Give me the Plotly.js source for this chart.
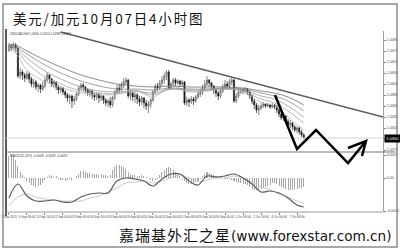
<!DOCTYPE html>
<html>
<head>
<meta charset="utf-8">
<script src="https://cdn.plot.ly/plotly-3.0.1.min.js"></script>
<style>
  html, body { margin: 0; padding: 0; background: #ffffff; }
  #chart { width: 400px; height: 250px; }
</style>
</head>
<body>
<div id="chart"></div>
<script>
// USD/CAD H4 bars, 5 Sep - 7 Oct
const open = [
  1.0476, 1.0484, 1.0480, 1.0486, 1.0480, 1.0424, 1.0432, 1.0426, 1.0420, 1.0428,
  1.0418, 1.0408, 1.0412, 1.0402, 1.0406, 1.0398, 1.0404, 1.0416, 1.0426, 1.0418,
  1.0408, 1.0412, 1.0402, 1.0396, 1.0400, 1.0392, 1.0386, 1.0380, 1.0384, 1.0374,
  1.0378, 1.0388, 1.0400, 1.0406, 1.0402, 1.0396, 1.0390, 1.0394, 1.0386, 1.0382,
  1.0388, 1.0380, 1.0384, 1.0376, 1.0370, 1.0374, 1.0366, 1.0380, 1.0392, 1.0400,
  1.0396, 1.0406, 1.0412, 1.0416, 1.0384, 1.0390, 1.0382, 1.0386, 1.0378, 1.0372,
  1.0380, 1.0370, 1.0364, 1.0368, 1.0376, 1.0392, 1.0404, 1.0400, 1.0410, 1.0416,
  1.0424, 1.0432, 1.0400, 1.0408, 1.0416, 1.0410, 1.0414, 1.0408, 1.0412, 1.0370,
  1.0376, 1.0372, 1.0378, 1.0374, 1.0382, 1.0388, 1.0392, 1.0400, 1.0408, 1.0416,
  1.0410, 1.0404, 1.0396, 1.0390, 1.0384, 1.0394, 1.0402, 1.0408, 1.0404, 1.0412,
  1.0416, 1.0374, 1.0384, 1.0392, 1.0396, 1.0394, 1.0398, 1.0392, 1.0384, 1.0374,
  1.0366, 1.0356, 1.0360, 1.0364, 1.0368, 1.0364, 1.0366, 1.0362, 1.0366, 1.0362,
  1.0356, 1.0348, 1.0340, 1.0344, 1.0334, 1.0326, 1.0330, 1.0322, 1.0316, 1.0320,
  1.0312, 1.0306
];
const high = [
  1.0490, 1.0488, 1.0492, 1.0490, 1.0482, 1.0440, 1.0436, 1.0430, 1.0434, 1.0432,
  1.0422, 1.0418, 1.0416, 1.0410, 1.0408, 1.0412, 1.0422, 1.0432, 1.0428, 1.0420,
  1.0416, 1.0414, 1.0406, 1.0404, 1.0402, 1.0396, 1.0390, 1.0388, 1.0386, 1.0384,
  1.0392, 1.0404, 1.0410, 1.0410, 1.0404, 1.0400, 1.0398, 1.0396, 1.0390, 1.0392,
  1.0390, 1.0388, 1.0386, 1.0380, 1.0378, 1.0382, 1.0384, 1.0396, 1.0406, 1.0408,
  1.0412, 1.0420, 1.0422, 1.0418, 1.0396, 1.0394, 1.0392, 1.0390, 1.0384, 1.0384,
  1.0382, 1.0376, 1.0374, 1.0380, 1.0396, 1.0408, 1.0410, 1.0416, 1.0424, 1.0430,
  1.0436, 1.0436, 1.0412, 1.0420, 1.0420, 1.0418, 1.0416, 1.0416, 1.0414, 1.0382,
  1.0380, 1.0384, 1.0382, 1.0386, 1.0394, 1.0398, 1.0406, 1.0416, 1.0424, 1.0418,
  1.0412, 1.0406, 1.0400, 1.0394, 1.0398, 1.0408, 1.0416, 1.0414, 1.0418, 1.0422,
  1.0418, 1.0390, 1.0398, 1.0400, 1.0400, 1.0402, 1.0400, 1.0394, 1.0388, 1.0378,
  1.0370, 1.0366, 1.0370, 1.0372, 1.0370, 1.0370, 1.0368, 1.0370, 1.0368, 1.0366,
  1.0360, 1.0352, 1.0348, 1.0346, 1.0338, 1.0336, 1.0332, 1.0326, 1.0324, 1.0322,
  1.0316, 1.0310
];
const low = [
  1.0472, 1.0474, 1.0476, 1.0472, 1.0420, 1.0418, 1.0416, 1.0412, 1.0416, 1.0410,
  1.0402, 1.0400, 1.0396, 1.0392, 1.0390, 1.0394, 1.0400, 1.0412, 1.0410, 1.0402,
  1.0400, 1.0396, 1.0388, 1.0390, 1.0386, 1.0380, 1.0372, 1.0368, 1.0360, 1.0366,
  1.0374, 1.0384, 1.0396, 1.0394, 1.0390, 1.0384, 1.0382, 1.0378, 1.0374, 1.0376,
  1.0370, 1.0374, 1.0368, 1.0364, 1.0362, 1.0360, 1.0362, 1.0376, 1.0388, 1.0390,
  1.0392, 1.0400, 1.0406, 1.0380, 1.0376, 1.0374, 1.0370, 1.0368, 1.0364, 1.0366,
  1.0360, 1.0356, 1.0350, 1.0360, 1.0372, 1.0388, 1.0394, 1.0396, 1.0404, 1.0408,
  1.0416, 1.0396, 1.0396, 1.0404, 1.0404, 1.0406, 1.0402, 1.0404, 1.0366, 1.0364,
  1.0362, 1.0368, 1.0366, 1.0370, 1.0378, 1.0382, 1.0386, 1.0396, 1.0404, 1.0402,
  1.0396, 1.0388, 1.0382, 1.0376, 1.0380, 1.0390, 1.0398, 1.0396, 1.0400, 1.0406,
  1.0370, 1.0370, 1.0380, 1.0388, 1.0388, 1.0390, 1.0386, 1.0378, 1.0368, 1.0358,
  1.0350, 1.0346, 1.0356, 1.0360, 1.0360, 1.0362, 1.0358, 1.0360, 1.0358, 1.0350,
  1.0342, 1.0336, 1.0334, 1.0328, 1.0322, 1.0320, 1.0316, 1.0312, 1.0310, 1.0306,
  1.0302, 1.0298
];
const close = [
  1.0484, 1.0480, 1.0486, 1.0480, 1.0424, 1.0432, 1.0426, 1.0420, 1.0428, 1.0418,
  1.0408, 1.0412, 1.0402, 1.0406, 1.0398, 1.0404, 1.0416, 1.0426, 1.0418, 1.0408,
  1.0412, 1.0402, 1.0396, 1.0400, 1.0392, 1.0386, 1.0380, 1.0384, 1.0374, 1.0378,
  1.0388, 1.0400, 1.0406, 1.0402, 1.0396, 1.0390, 1.0394, 1.0386, 1.0382, 1.0388,
  1.0380, 1.0384, 1.0376, 1.0370, 1.0374, 1.0366, 1.0380, 1.0392, 1.0400, 1.0396,
  1.0406, 1.0412, 1.0416, 1.0384, 1.0390, 1.0382, 1.0386, 1.0378, 1.0372, 1.0380,
  1.0370, 1.0364, 1.0368, 1.0376, 1.0392, 1.0404, 1.0400, 1.0410, 1.0416, 1.0424,
  1.0432, 1.0400, 1.0408, 1.0416, 1.0410, 1.0414, 1.0408, 1.0412, 1.0370, 1.0376,
  1.0372, 1.0378, 1.0374, 1.0382, 1.0388, 1.0392, 1.0400, 1.0408, 1.0416, 1.0410,
  1.0404, 1.0396, 1.0390, 1.0384, 1.0394, 1.0402, 1.0408, 1.0404, 1.0412, 1.0416,
  1.0374, 1.0384, 1.0392, 1.0396, 1.0394, 1.0398, 1.0392, 1.0384, 1.0374, 1.0366,
  1.0356, 1.0360, 1.0364, 1.0368, 1.0364, 1.0366, 1.0362, 1.0366, 1.0362, 1.0356,
  1.0348, 1.0340, 1.0344, 1.0334, 1.0326, 1.0330, 1.0322, 1.0316, 1.0320, 1.0312,
  1.0306, 1.0300
];

// Moving-average ribbon, sampled at these bar numbers
const maBars  = [0, 4, 8, 16, 24, 32, 40, 48, 56, 64, 72, 80, 88, 96, 104, 112, 118, 124, 131];
const maFast  = [1.0480, 1.0464, 1.0436, 1.0412, 1.0400, 1.0390, 1.0386, 1.0388, 1.0396, 1.0382, 1.0404, 1.0392, 1.0396, 1.0400, 1.0392, 1.0372, 1.0364, 1.0342, 1.0316];
const ma2     = [1.0482, 1.0472, 1.0450, 1.0422, 1.0406, 1.0394, 1.0390, 1.0388, 1.0394, 1.0386, 1.0398, 1.0394, 1.0394, 1.0398, 1.0394, 1.0378, 1.0370, 1.0354, 1.0330];
const ma3     = [1.0484, 1.0476, 1.0460, 1.0434, 1.0416, 1.0402, 1.0394, 1.0392, 1.0394, 1.0390, 1.0398, 1.0396, 1.0396, 1.0398, 1.0396, 1.0384, 1.0378, 1.0364, 1.0342];
const ma4     = [1.0486, 1.0480, 1.0468, 1.0446, 1.0428, 1.0414, 1.0404, 1.0398, 1.0398, 1.0396, 1.0400, 1.0398, 1.0398, 1.0400, 1.0398, 1.0390, 1.0384, 1.0374, 1.0354];
const maSlow  = [1.0488, 1.0484, 1.0474, 1.0456, 1.0440, 1.0426, 1.0416, 1.0408, 1.0404, 1.0402, 1.0404, 1.0402, 1.0402, 1.0402, 1.0400, 1.0394, 1.0390, 1.0382, 1.0366];

// MACD(12,26,9) histogram, one value per bar
const macdHist = [
  0.0022, 0.0023, 0.0021, 0.0018, 0.0012,
  0.0006, 0.0003, 0.0001,
  -0.0003, -0.0005, -0.0007, -0.0008, -0.0009, -0.0008, -0.0007, -0.0005,
  -0.0002, 0.0001, 0.0003,
  0.0002, 0.0001, 0.0002,
  -0.0001, -0.0002, -0.0002, -0.0003, -0.0002, -0.0001, -0.0002,
  0.0000, 0.0002, 0.0004,
  0.0007, 0.0007, 0.0006, 0.0005, 0.0005, 0.0004, 0.0004, 0.0004, 0.0003, 0.0004, 0.0003, 0.0003, 0.0002,
  0.0003, 0.0008, 0.0011, 0.0013, 0.0013, 0.0012, 0.0011, 0.0009, 0.0006,
  0.0004, 0.0003, 0.0003, 0.0002, 0.0002, 0.0003, 0.0002, 0.0001, 0.0000,
  -0.0002, -0.0003, -0.0002, -0.0001,
  0.0003, 0.0006, 0.0008, 0.0010, 0.0011, 0.0010, 0.0008, 0.0006, 0.0004,
  0.0002, -0.0001, -0.0003, -0.0005, -0.0006, -0.0006, -0.0005, -0.0004, -0.0003, -0.0001,
  0.0002, 0.0004, 0.0006, 0.0005, 0.0004, 0.0003, 0.0002,
  0.0001, 0.0001, 0.0000, -0.0001, -0.0001,
  -0.0001, -0.0002, -0.0003, -0.0004, -0.0005, -0.0005, -0.0006, -0.0006, -0.0007,
  -0.0009, -0.0011, -0.0012, -0.0012, -0.0012, -0.0011, -0.0010, -0.0009, -0.0008, -0.0007,
  -0.0005, -0.0005, -0.0006, -0.0008, -0.0009,
  -0.0010, -0.0011, -0.0012, -0.0012, -0.0012, -0.0011, -0.0011, -0.0010, -0.0010, -0.0009
];
// MACD main and signal lines, sampled at these bar numbers
const macdBars   = [0, 4, 8, 12, 16, 20, 24, 28, 32, 36, 40, 44, 48, 52, 56, 60, 64, 68, 72, 76, 80, 84, 88, 92, 96, 100, 104, 108, 112, 116, 120, 124, 128, 131];
const macdMain   = [-0.0020, -0.0006, -0.0018, -0.0023, -0.0023, -0.0022, -0.0024, -0.0024, -0.0019, -0.0016, -0.0015, -0.0015, -0.0003, 0.0000, -0.0001, -0.0003, -0.0008, -0.0001, 0.0004, 0.0004, -0.0003, -0.0007, 0.0002, 0.0001, 0.0002, 0.0004, 0.0000, -0.0006, -0.0014, -0.0013, -0.0015, -0.0020, -0.0027, -0.0029];
const macdSignal = [-0.0028, -0.0019, -0.0016, -0.0019, -0.0021, -0.0022, -0.0023, -0.0023, -0.0023, -0.0020, -0.0018, -0.0014, -0.0010, -0.0005, -0.0004, -0.0003, -0.0005, -0.0003, 0.0000, 0.0003, 0.0000, -0.0004, -0.0002, 0.0000, 0.0000, 0.0002, 0.0000, -0.0004, -0.0009, -0.0012, -0.0016, -0.0019, -0.0023, -0.0025];

// Axis labels
const xTickLabels = ['5 Sep 2013', '9 Sep 08:00', '10 Sep 16:00', '12 Sep 00:00', '13 Sep 08:00', '16 Sep 16:00',
  '18 Sep 00:00', '19 Sep 08:00', '20 Sep 16:00', '24 Sep 00:00', '25 Sep 08:00', '26 Sep 16:00',
  '30 Sep 00:00', '1 Oct 08:00', '2 Oct 16:00', '4 Oct 00:00', '7 Oct 08:00'];
const priceTicks = [1.0496, 1.0474, 1.0452, 1.0430, 1.0408, 1.0386, 1.0364, 1.0342, 1.0320, 1.0298, 1.0276];
const macdTicks = [0.0023, 0, -0.0033];
const macdTickLabels = ['0.0023', '0.00', '-0.0033'];

// Hand-drawn trend line (bar, price)
const trendLine = { bar0: 23, price0: 1.0512, bar1: 166.2, price1: 1.0342 };

// ---------------------------------------------------------------
const bars = close.map((_, i) => i);
const last = close.length - 1;
const W = 400, H = 250;
const px = x => x / W;
const py = y => 1 - y / H;
const pathOf = pts => pts.map((p, i) => (i ? 'L' : 'M') + px(p[0]).toFixed(4) + ',' + py(p[1]).toFixed(4)).join(' ');

const ribbon = [
  { y: maFast, color: '#b8b8b8' },
  { y: ma2, color: '#a8a8a8' },
  { y: ma3, color: '#9a9a9a' },
  { y: ma4, color: '#8a8a8a' },
  { y: maSlow, color: '#6e6e6e' }
];

const traces = [];
ribbon.forEach(r => traces.push({
  type: 'scatter', mode: 'lines', x: maBars, y: r.y, xaxis: 'x', yaxis: 'y',
  line: { color: r.color, width: 0.8, shape: 'spline' }, hoverinfo: 'skip'
}));
traces.push({
  type: 'candlestick', x: bars, open: open, high: high, low: low, close: close,
  xaxis: 'x', yaxis: 'y', whiskerwidth: 0,
  increasing: { line: { color: '#555555', width: 0.7 }, fillcolor: '#ffffff' },
  decreasing: { line: { color: '#222222', width: 0.7 }, fillcolor: '#000000' },
  hoverinfo: 'skip'
});
traces.push({
  type: 'bar', x: bars, y: macdHist, xaxis: 'x', yaxis: 'y2', width: 0.45,
  marker: { color: '#a8a8a8', line: { width: 0 } }, hoverinfo: 'skip'
});
traces.push({
  type: 'scatter', mode: 'lines', x: macdBars, y: macdSignal, xaxis: 'x', yaxis: 'y2',
  line: { color: '#c8c8c8', width: 1, shape: 'spline' }, hoverinfo: 'skip'
});
traces.push({
  type: 'scatter', mode: 'lines', x: macdBars, y: macdMain, xaxis: 'x', yaxis: 'y2',
  line: { color: '#5a5a5a', width: 1.2, shape: 'spline' }, hoverinfo: 'skip'
});

const tickFont = { family: 'Liberation Sans, Arial, sans-serif', size: 3.6, color: '#444' };

const shapes = [
  // outer frame
  { type: 'rect', xref: 'paper', yref: 'paper', x0: px(3), x1: px(397), y0: py(247), y1: py(4),
    line: { color: '#8c8c8c', width: 1.5 } },
  // chart window edges
  { type: 'line', xref: 'paper', yref: 'paper', x0: px(6), x1: px(6), y0: py(29), y1: py(216),
    line: { color: '#5a5a5a', width: 2 } },
  { type: 'line', xref: 'paper', yref: 'paper', x0: px(6), x1: px(383), y0: py(212), y1: py(212),
    line: { color: '#9a9a9a', width: 1 } },
  { type: 'line', xref: 'paper', yref: 'paper', x0: px(6), x1: px(395), y0: py(152), y1: py(152),
    line: { color: '#7a7a7a', width: 1.2 } },
  // last price line
  { type: 'line', xref: 'paper', yref: 'y', x0: px(6), x1: px(383), y0: close[last], y1: close[last],
    line: { color: '#d4d4d4', width: 1 } },
  // trend line
  { type: 'line', xref: 'x', yref: 'y', x0: trendLine.bar0, y0: trendLine.price0, x1: trendLine.bar1, y1: trendLine.price1,
    line: { color: '#5c5c5c', width: 1.4 } },
  // projected zig-zag with arrow head
  { type: 'path', xref: 'paper', yref: 'paper',
    path: pathOf([[275, 95], [297, 149], [316, 130], [348, 163], [366, 141]]),
    line: { color: '#000000', width: 2.5 } },
  { type: 'path', xref: 'paper', yref: 'paper',
    path: pathOf([[348, 148], [366, 141], [362, 156]]),
    line: { color: '#000000', width: 2.5 } }
];

const infoText = 'USDCAD,H4 ' + [open[last], high[last], low[last], close[last]].map(v => v.toFixed(4)).join(' ');
const macdText = 'MACD(12,26,9) ' + [macdHist[last], macdMain[macdMain.length - 1], macdSignal[macdSignal.length - 1]].map(v => v.toFixed(4)).join(' ');

const annotations = [
  { xref: 'paper', yref: 'paper', x: px(11), y: py(17.5), xanchor: 'left', yanchor: 'middle', showarrow: false,
    text: '<span style="letter-spacing:1.8px">美元/加元10月07日4小时图</span>',
    font: { family: 'Noto Sans CJK SC, sans-serif', size: 13.5, color: '#111' } },
  { xref: 'paper', yref: 'paper', x: px(393), y: py(236), xanchor: 'right', yanchor: 'middle', showarrow: false,
    text: '<span style="font-size:15px;letter-spacing:1px">嘉瑞基外汇之星</span>(www.forexstar.com.cn)',
    font: { family: 'DejaVu Sans, Noto Sans CJK SC, sans-serif', size: 13.6, color: '#111' } },
  { xref: 'paper', yref: 'paper', x: px(8), y: py(34), xanchor: 'left', yanchor: 'middle', showarrow: false,
    text: infoText, font: { family: 'Liberation Sans, Arial, sans-serif', size: 3.2, color: '#333' } },
  { xref: 'paper', yref: 'paper', x: px(8), y: py(155.5), xanchor: 'left', yanchor: 'middle', showarrow: false,
    text: macdText, font: { family: 'Liberation Sans, Arial, sans-serif', size: 3.2, color: '#333' } },
  { xref: 'paper', yref: 'y', x: px(384), y: close[last], xanchor: 'left', yanchor: 'middle', showarrow: false,
    text: close[last].toFixed(4), bgcolor: '#000000', borderpad: 1.2,
    font: { family: 'Liberation Sans, Arial, sans-serif', size: 4, color: '#ffffff' } }
];

const layout = {
  width: W, height: H,
  margin: { l: 0, r: 0, t: 0, b: 0, pad: 0 },
  paper_bgcolor: '#ffffff', plot_bgcolor: '#ffffff',
  showlegend: false, hovermode: false, bargap: 0,
  font: { family: 'Liberation Sans, Arial, sans-serif', size: 4, color: '#333' },
  xaxis: {
    domain: [px(6), px(383)], range: [-1.3, 166.2], anchor: 'y2',
    showgrid: false, zeroline: false, showline: false,
    tickmode: 'array', tickvals: xTickLabels.map((_, i) => i * 8), ticktext: xTickLabels,
    tickangle: 0, automargin: false,
    ticks: 'outside', ticklen: 1.5, tickcolor: '#888',
    tickfont: { family: 'Liberation Sans, Arial, sans-serif', size: 3, color: '#444' },
    rangeslider: { visible: false }, fixedrange: true
  },
  yaxis: {
    domain: [py(152), py(31)], range: [1.0272, 1.0514], anchor: 'x', side: 'right',
    showgrid: false, zeroline: false, showline: true, linecolor: '#a0a0a0', linewidth: 1,
    tickmode: 'array', tickvals: priceTicks, ticktext: priceTicks.map(v => v.toFixed(4)),
    ticks: 'outside', ticklen: 2, tickcolor: '#888', tickfont: tickFont, fixedrange: true
  },
  yaxis2: {
    domain: [py(212), py(152)], range: [-0.0034, 0.0026], anchor: 'x', side: 'right',
    showgrid: false, zeroline: false, showline: true, linecolor: '#a0a0a0', linewidth: 1,
    tickmode: 'array', tickvals: macdTicks, ticktext: macdTickLabels,
    ticks: 'outside', ticklen: 2, tickcolor: '#888', tickfont: tickFont, fixedrange: true
  },
  shapes: shapes,
  annotations: annotations
};

Plotly.newPlot('chart', traces, layout, { staticPlot: true, displayModeBar: false });
</script>
</body>
</html>
